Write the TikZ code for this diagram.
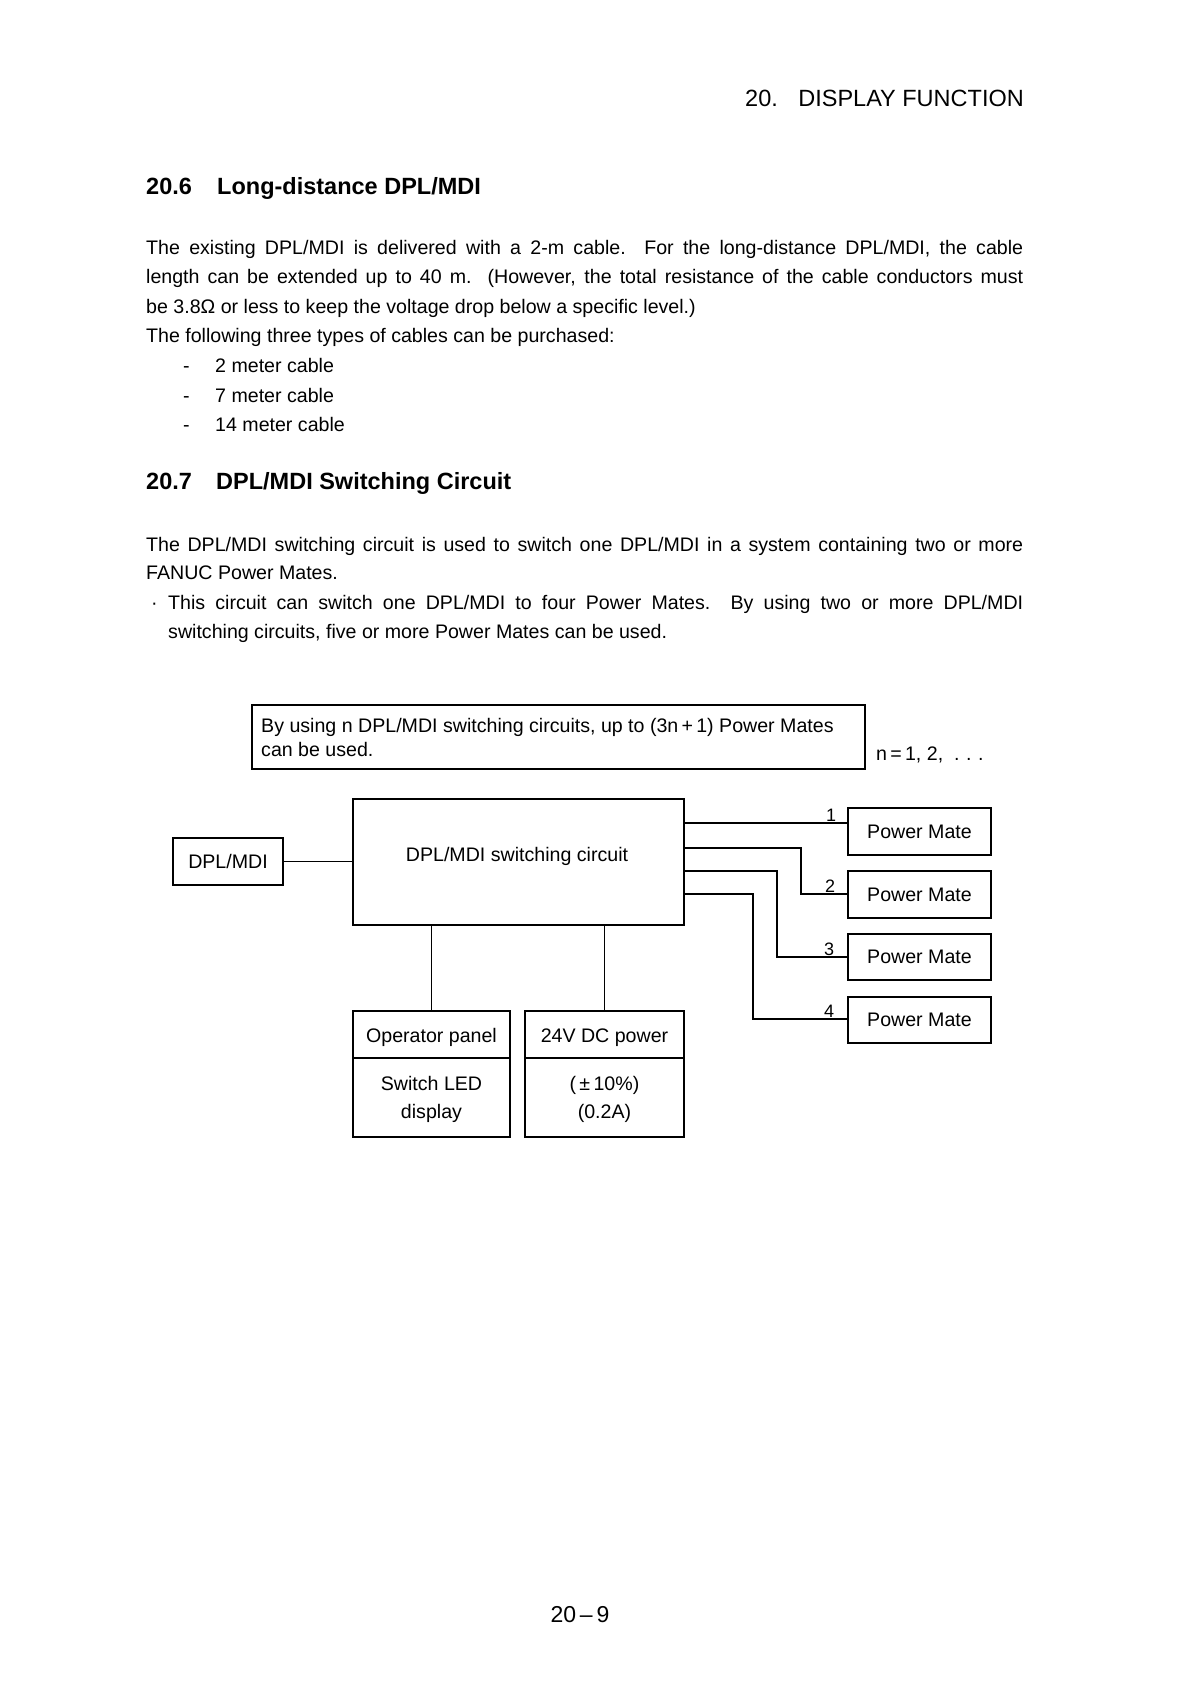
\documentclass[tikz,border=0pt]{standalone}
\usepackage{fontspec}
\setmainfont{Liberation Sans}
\newcommand\mfs{\fontsize{19.6pt}{24pt}\selectfont}
\newcommand\mfh{\fontsize{23.5pt}{28pt}\selectfont}
\newcommand\mfsec{\fontsize{23.5pt}{28pt}\selectfont\bfseries}
\newcommand\mfpg{\fontsize{23pt}{28pt}\selectfont}
\begin{document}
\begin{tikzpicture}[x=1pt,y=-1pt,
  txt/.style={inner sep=0pt, anchor=base west, font=\mfs},
  box/.style={draw, line width=1.8pt, inner sep=0pt, font=\mfs, align=center},
  wire/.style={line width=1.8pt},
  numlab/.style={inner sep=0pt, anchor=base, font=\fontsize{18pt}{20pt}\selectfont}
]
\fill[white] (0,0) rectangle (1191,1682);
\useasboundingbox (0,0) rectangle (1191,1682);

% header
\node[txt, font=\mfh] (hnum) at (745,106) {20.};
\node[txt, font=\mfh, anchor=base east] (htitle) at (1024,106) {DISPLAY FUNCTION};

% section 20.6
\node[txt, font=\mfsec] (s6n) at (146,194) {20.6};
\node[txt, font=\mfsec] (s6t) at (217,194) {Long-distance DPL/MDI};
\node[txt] (p1) at (146,254) {\makebox[877pt][s]{The existing DPL/MDI is delivered with a 2-m cable.\ \ For the long-distance DPL/MDI, the cable}};
\node[txt] (p2) at (146,283) {\makebox[877pt][s]{length can be extended up to 40 m.\ \ (However, the total resistance of the cable conductors must}};
\node[txt] (p3) at (146,313) {be 3.8Ω or less to keep the voltage drop below a specific level.)};
\node[txt] (p4) at (146,342) {The following three types of cables can be purchased:};
\node[txt] (b1d) at (183,372) {-};
\node[txt] (b1) at (215,372) {2 meter cable};
\node[txt] (b2d) at (183,402) {-};
\node[txt] (b2) at (215,402) {7 meter cable};
\node[txt] (b3d) at (183,431) {-};
\node[txt] (b3) at (215,431) {14 meter cable};

% section 20.7
\node[txt, font=\mfsec] (s7n) at (146,489) {20.7};
\node[txt, font=\mfsec] (s7t) at (216,489) {DPL/MDI Switching Circuit};
\node[txt] (q1) at (146,551) {\makebox[877pt][s]{The DPL/MDI switching circuit is used to switch one DPL/MDI in a system containing two or more}};
\node[txt] (q2) at (146,579) {FANUC Power Mates.};
\node[txt] (q3d) at (151,609) {·};
\node[txt] (q3) at (168,609) {\makebox[855pt][s]{This circuit can switch one DPL/MDI to four Power Mates.\ \ By using two or more DPL/MDI}};
\node[txt] (q4) at (168,638) {switching circuits, five or more Power Mates can be used.};

% note box
\node[box, minimum width=613pt, minimum height=64pt] (note) at (558.5,737) {};
\node[txt] (note1) at (261,732) {By using n DPL/MDI switching circuits, up to (3n\,+\,1) Power Mates};
\node[txt] (note2) at (261,756) {can be used.};
\node[txt] (nval) at (876,760) {n\,=\,1, 2,\ \ .\,\,.\,\,.};

% diagram boxes
\node[box, minimum width=110pt, minimum height=47pt] (dpl) at (228,861.5) {DPL/MDI};
\node[box, minimum width=331pt, minimum height=126pt] (sw) at (518.5,862) {};
\node[txt, anchor=base] (swt) at (517,861) {DPL/MDI switching circuit};

\node[box, minimum width=143pt, minimum height=47pt] (pm1) at (919.5,831.5) {Power Mate};
\node[box, minimum width=143pt, minimum height=47pt] (pm2) at (919.5,894.5) {Power Mate};
\node[box, minimum width=143pt, minimum height=46pt] (pm3) at (919.5,957) {Power Mate};
\node[box, minimum width=143pt, minimum height=46pt] (pm4) at (919.5,1020) {Power Mate};

\node[box, minimum width=157pt, minimum height=126pt] (op) at (431.5,1074) {};
\node[box, minimum width=159pt, minimum height=126pt] (pw) at (604.5,1074) {};
\draw[wire] (op.west |- 0,1058) -- (op.east |- 0,1058);
\draw[wire] (pw.west |- 0,1058) -- (pw.east |- 0,1058);
\node[txt, anchor=base] (opt1) at (431.5,1042) {Operator panel};
\node[txt, anchor=base] (opt2) at (431.5,1090) {Switch LED};
\node[txt, anchor=base] (opt3) at (431.5,1118) {display};
\node[txt, anchor=base] (pwt1) at (604.5,1042) {24V DC power};
\node[txt, anchor=base] (pwt2) at (604.5,1090) {(\,±\,10\%)};
\node[txt, anchor=base] (pwt3) at (604.5,1118) {(0.2A)};

% connectors
\draw[wire] (dpl.east) -- (sw.west |- dpl.east);
\draw[wire] (op.north) -- (op.north |- sw.south);
\draw[wire] (pw.north) -- (pw.north |- sw.south);

\coordinate (k2) at (801,894);
\coordinate (k3) at (777,957);
\coordinate (k4) at (753,1019);
\draw[wire] (sw.east |- 0,823) -- (pm1.west |- 0,823);
\draw[wire] (sw.east |- 0,848) -| (k2) -- (pm2.west |- k2);
\draw[wire] (sw.east |- 0,871) -| (k3) -- (pm3.west |- k3);
\draw[wire] (sw.east |- 0,894) -| (k4) -- (pm4.west |- k4);

\node[numlab] (n1) at (831,821) {1};
\node[numlab] (n2) at (830,892) {2};
\node[numlab] (n3) at (829,955) {3};
\node[numlab] (n4) at (829,1017) {4};

% page number
\node[txt, font=\mfpg, anchor=base] (pg) at (580,1622) {20\,–\,9};
\end{tikzpicture}
\end{document}
